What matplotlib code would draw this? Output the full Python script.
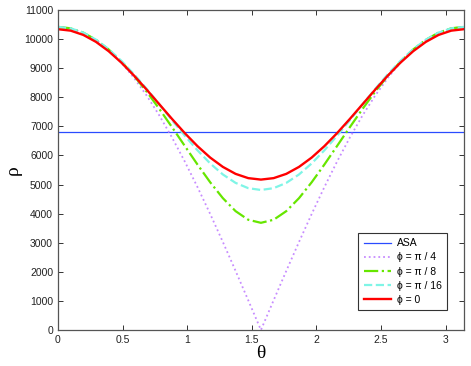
import matplotlib

matplotlib.use("Agg")
import matplotlib.pyplot as plt
import numpy as np

# theta samples: k*pi/32, k = 0..32
theta = np.arange(33) * np.pi / 32

asa = [6800] * 33

rho_pi4 = [10420, 10370, 10220, 9971, 9627, 9190, 8664, 8055, 7368, 6610, 5789,
           4912, 3988, 3025, 2033, 1021, 0, 1021, 2033, 3025, 3988, 4912,
           5789, 6610, 7368, 8055, 8664, 9190, 9627, 9971, 10220, 10370, 10420]

rho_pi8 = [10420, 10370, 10221, 9976, 9642, 9226, 8738, 8190, 7595, 6967, 6325,
           5687, 5078, 4531, 4086, 3789, 3684, 3789, 4086, 4531, 5078, 5687,
           6325, 6967, 7595, 8190, 8738, 9226, 9642, 9976, 10221, 10370, 10420]

rho_pi16 = [10420, 10370, 10222, 9980, 9653, 9252, 8790, 8285, 7751, 7209, 6677,
            6176, 5725, 5346, 5057, 4875, 4813, 4875, 5057, 5346, 5725, 6176,
            6677, 7209, 7751, 8285, 8790, 9252, 9653, 9980, 10222, 10370, 10420]

rho_0 = [10340, 10290, 10143, 9904, 9583, 9191, 8744, 8259, 7755, 7251, 6766,
         6319, 5927, 5606, 5367, 5220, 5170, 5220, 5367, 5606, 5927, 6319,
         6766, 7251, 7755, 8259, 8744, 9191, 9583, 9904, 10143, 10290, 10340]

plt.rcParams["font.family"] = ["Liberation Sans", "DejaVu Sans"]

fig = plt.figure(figsize=(4.71, 3.66), dpi=100)
ax = fig.add_axes([0.123, 0.0984, 0.862, 0.8743])

ax.plot(theta, asa, "-", color="#2a4bff", lw=0.9, label="ASA")
ax.plot(theta, rho_pi4, ":", color="#c78cff", lw=1.3, label="ϕ = π / 4")
ax.plot(theta, rho_pi8, "-.", color="#66e600", lw=1.6, label="ϕ = π / 8")
ax.plot(theta, rho_pi16, "--", color="#7ff5e6", lw=1.6, label="ϕ = π / 16")
ax.plot(theta, rho_0, "-", color="#ff0000", lw=1.7, label="ϕ = 0")

ax.set_xlim(0, np.pi)
ax.set_ylim(0, 11000)
ax.set_xticks([0, 0.5, 1, 1.5, 2, 2.5, 3])
ax.set_xticklabels(["0", "0.5", "1", "1.5", "2", "2.5", "3"])
ax.set_yticks(range(0, 11001, 1000))
ax.tick_params(direction="in", length=3.5, width=0.7, labelsize=7.5,
               top=True, right=True, colors="#333333", labelcolor="#222222")
for s in ax.spines.values():
    s.set_color("#555555")
    s.set_linewidth(0.9)

ax.set_xlabel("θ", family=["Liberation Serif", "DejaVu Serif"], fontsize=14, labelpad=0)
ax.set_ylabel("ρ", family=["Liberation Serif", "DejaVu Serif"], fontsize=14, labelpad=2)

leg = ax.legend(loc="upper left", bbox_to_anchor=(0.727, 0.319), fontsize=7.5,
                handlelength=2.6, fancybox=False, framealpha=1, borderpad=0.5,
                labelspacing=0.4, handletextpad=0.6)
leg.get_frame().set_edgecolor("#333333")
leg.get_frame().set_linewidth(0.8)

fig.savefig("out.png", dpi=100)
